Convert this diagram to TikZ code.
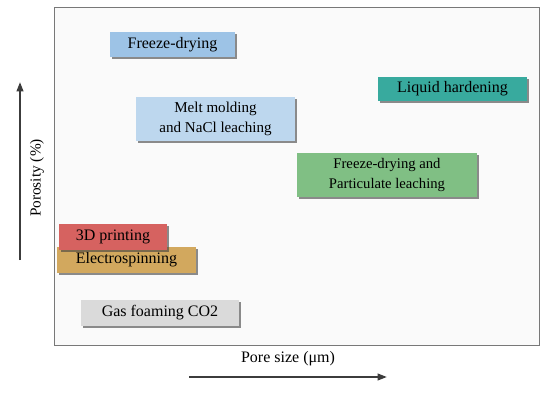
\documentclass[tikz,border=0pt]{standalone}
\usepackage{fontspec}
\setmainfont{Liberation Serif}
\usetikzlibrary{arrows.meta,shadows}

\definecolor{fdblue}{RGB}{157,195,230}
\definecolor{mmblue}{RGB}{189,215,238}
\definecolor{lhteal}{RGB}{56,170,158}
\definecolor{fpgreen}{RGB}{128,191,132}
\definecolor{prred}{RGB}{214,98,96}
\definecolor{estan}{RGB}{210,168,94}
\definecolor{gfgray}{RGB}{218,218,218}
\definecolor{axisgray}{RGB}{60,60,60}

\tikzset{
  method/.style={inner sep=0pt, align=center, font=\fontsize{12}{14.5}\selectfont,
    drop shadow={shadow xshift=1.8pt, shadow yshift=-1.8pt, fill=black!75, opacity=0.6}},
  axisarrow/.style={draw=axisgray, line width=1.4pt, -{Triangle[length=7pt,width=5pt]}}
}

\begin{document}
\begin{tikzpicture}[x=0.75pt,y=0.75pt,yscale=-1,xscale=1]
\path[use as bounding box] (0,0) rectangle (554,403);

%Plot area
\draw [draw={rgb,255:red,120;green,120;blue,120}, fill={rgb,255:red,250;green,250;blue,250}, line width=0.75] (54,8) rectangle (539,345);

% Method boxes
\node [method, fill=fdblue, minimum width=125*0.75pt, minimum height=25*0.75pt] (fd) at (172.5,44.5) {Freeze-drying};
\node [method, fill=lhteal, minimum width=149*0.75pt, minimum height=24*0.75pt] (lh) at (452.5,89) {Liquid hardening};
\node [method, fill=mmblue, minimum width=159*0.75pt, minimum height=44*0.75pt, font=\fontsize{11.3}{14.5}\selectfont] (mm) at (215.5,119) {Melt molding\\and NaCl leaching};
\node [method, fill=fpgreen, minimum width=180*0.75pt, minimum height=44*0.75pt, font=\fontsize{11}{14.5}\selectfont] (fp) at (387,175) {Freeze-drying and\\Particulate leaching};
\node [method, fill=estan, minimum width=139*0.75pt, minimum height=26*0.75pt] (es) at (126.5,260) {Electrospinning};
\node [method, fill=prred, minimum width=108*0.75pt, minimum height=26*0.75pt] (pr) at (113,237) {3D printing};
\node [method, fill=gfgray, minimum width=158*0.75pt, minimum height=26*0.75pt] (gf) at (160,313) {Gas foaming CO2};

%Straight Lines
\coordinate (ybot) at (20,260);
\coordinate (ytop) at (20,82);
\draw [axisarrow] (ybot) -- (ytop);
\coordinate (xleft) at (189,377);
\coordinate (xright) at (387,377);
\draw [axisarrow] (xleft) -- (xright);

% Text Node
\node [rotate=90, font=\fontsize{11.5}{13}\selectfont] (ylab) at (37,178) {Porosity (\%)};
% Text Node
\node [font=\fontsize{12}{14}\selectfont] (xlab) at (288,359) {Pore size (μm)};
\end{tikzpicture}
\end{document}
